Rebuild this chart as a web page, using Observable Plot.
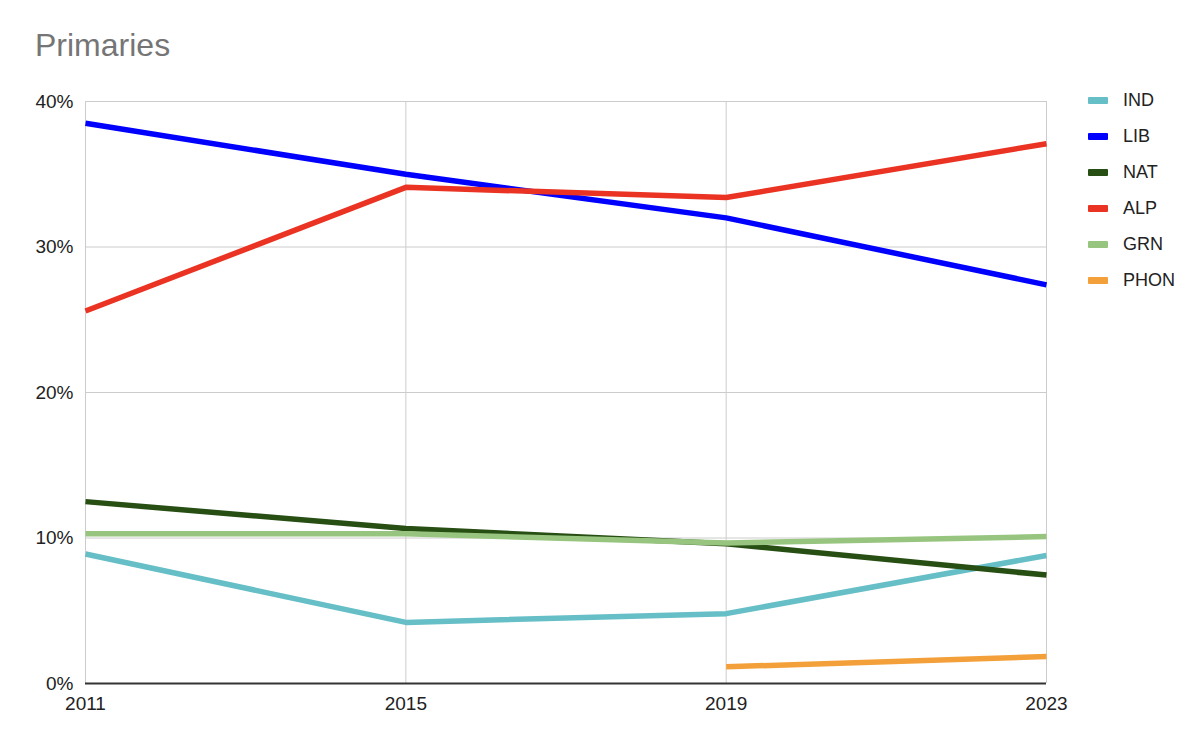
<!DOCTYPE html>
<html>
<head>
<meta charset="utf-8">
<script src="https://cdn.jsdelivr.net/npm/d3@7"></script>
<script src="https://cdn.jsdelivr.net/npm/@observablehq/plot@0.6"></script>
<style>
  html, body { margin: 0; padding: 0; background: #fff; }
  body { width: 1200px; height: 739px; position: relative; font-family: "Liberation Sans", Arial, sans-serif; overflow: hidden; }
  #title { height: 80px; position: relative; }
  #title span { position: absolute; left: 35px; top: 27px; font-size: 32px; color: #757575; }
  #legend { position: absolute; left: 1088px; top: 90px; }
  .row { height: 36px; display: flex; align-items: flex-start; font-size: 18px; color: #222; }
  .sw { width: 20px; height: 7px; margin-top: 7px; margin-right: 15px; border-radius: 1px; }
</style>
</head>
<body>
<div id="title"><span>Primaries</span></div>
<div id="chart"></div>
<div id="legend"></div>
<script>
const years = [2011, 2015, 2019, 2023];
const parties = ["IND", "LIB", "NAT", "ALP", "GRN", "PHON"];
const colors = ["#66bec6", "#0000ff", "#274e13", "#ea3323", "#97c57f", "#f4a03a"];
const IND  = [0.089, 0.042, 0.048, 0.088];
const LIB  = [0.385, 0.350, 0.320, 0.274];
const NAT  = [0.125, 0.1065, 0.096, 0.0745];
const ALP  = [0.256, 0.341, 0.334, 0.371];
const GRN  = [0.103, 0.103, 0.0965, 0.101];
const PHON = [null, null, 0.0115, 0.0185];
const yTicks = [0, 0.1, 0.2, 0.3, 0.4];

const series = {IND, LIB, NAT, ALP, GRN, PHON};
const rows = [];
parties.forEach(p => years.forEach((y, i) => {
  const v = series[p][i];
  if (v != null) rows.push({party: p, year: y, value: v});
}));

const plot = Plot.plot({
  width: 1200,
  height: 659,
  marginTop: 21,
  marginBottom: 56,
  marginLeft: 85,
  marginRight: 154,
  style: {fontFamily: "Liberation Sans, Arial, sans-serif", fontSize: "19px", color: "#222", background: "#fff"},
  x: {domain: [2011, 2023], ticks: years, tickFormat: d => String(d), label: null, tickSize: 0, tickPadding: 12},
  y: {domain: [0, 0.4], ticks: yTicks, tickFormat: d => Math.round(d * 100) + "%", label: null, tickSize: 0, tickPadding: 12},
  color: {domain: parties, range: colors},
  marks: [
    Plot.gridX(years, {stroke: "#cccccc", strokeOpacity: 1, strokeWidth: 1}),
    Plot.gridY(yTicks, {stroke: "#cccccc", strokeOpacity: 1, strokeWidth: 1}),
    Plot.axisX({ticks: years, tickFormat: d => String(d), tickSize: 0, tickPadding: 13, label: null, fontSize: 19}),
    Plot.axisY({ticks: yTicks, tickFormat: d => Math.round(d * 100) + "%", tickSize: 0, tickPadding: 12, label: null, fontSize: 19}),
    Plot.lineY(rows, {x: "year", y: "value", z: "party", stroke: "party", strokeWidth: 5.5, strokeLinejoin: "round", strokeLinecap: "butt"}),
    Plot.ruleY([0], {stroke: "#333333", strokeWidth: 2})
  ]
});
document.getElementById("chart").appendChild(plot);

const legend = document.getElementById("legend");
parties.forEach((p, i) => {
  const r = document.createElement("div");
  r.className = "row";
  r.innerHTML = `<div class="sw" style="background:${colors[i]}"></div><div>${p}</div>`;
  legend.appendChild(r);
});
</script>
</body>
</html>
